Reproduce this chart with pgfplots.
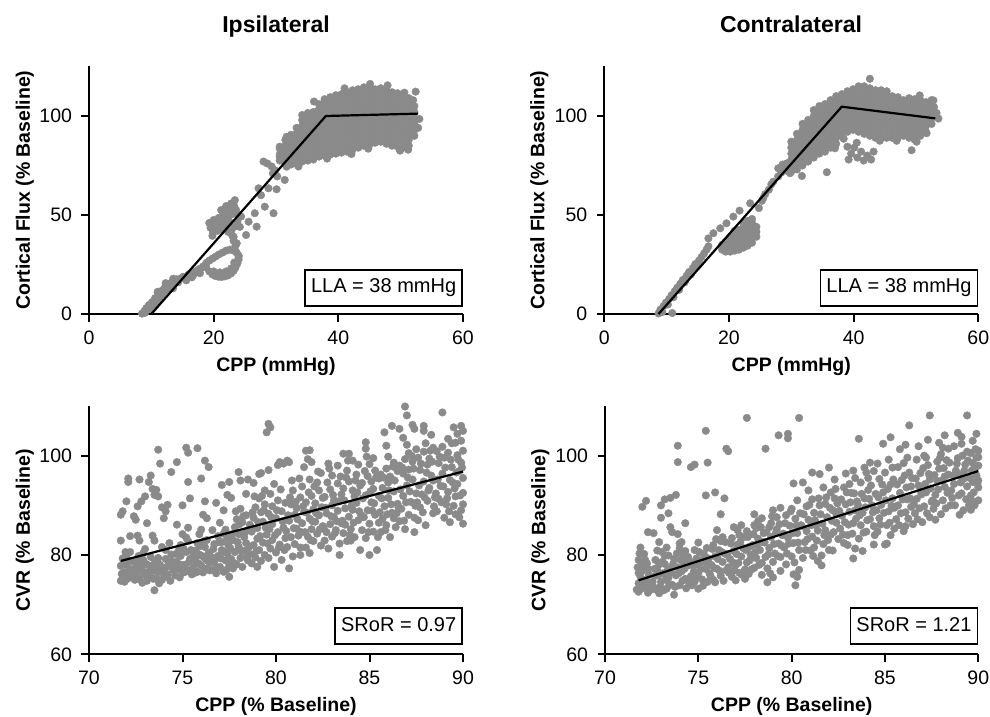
\documentclass[border=0pt]{standalone}
\usepackage{pgfplots}
\pgfplotsset{compat=1.18}
\usepackage{fontspec}
\setmainfont{Liberation Sans}
\definecolor{dotgray}{RGB}{138,138,138}
\pgfplotsset{
  base/.style={scale only axis, width=374pt, height=247.5pt,
    axis x line*=bottom, axis y line*=left,
    axis line style={-, line width=2pt, black},
    tick align=outside, major tick length=7.5pt,
    tick style={line width=2pt, black},
    tick label style={font=\fontsize{19.5}{22}\selectfont},
    xticklabel shift=5.5pt, yticklabel shift=6pt,
    /pgf/number format/assume math mode=true,
    xlabel style={font=\bfseries\fontsize{19.5}{22}\selectfont, anchor=base, at={(axis description cs:0.5,-0.234)}},
    ylabel style={font=\bfseries\fontsize{19.5}{22}\selectfont, anchor=base, at={(axis description cs:-0.158,0.5)}},
    clip=false, clip marker paths=true, minor tick num=0},
  dots/.style={only marks, mark=*, mark size=3.8pt, color=dotgray},
  fitline/.style={black, line width=2.2pt, mark=none},
}
\tikzset{statbox/.style={draw, line width=1.6pt, anchor=south east, font=\fontsize{20}{24}\selectfont, inner xsep=6pt, inner ysep=8.5pt, text height=14.5pt, text depth=4.5pt}}
\begin{document}
\begin{tikzpicture}
\useasboundingbox (0,0) rectangle (990pt,716pt);
\node[font=\bfseries\fontsize{23}{27}\selectfont, anchor=base] at (276pt,683pt) {Ipsilateral};
\node[font=\bfseries\fontsize{23}{27}\selectfont, anchor=base] at (791pt,683pt) {Contralateral};

% ---------------- Panel 1 ----------------
\begin{axis}[base, at={(89pt,402pt)}, anchor=south west,
  xmin=0, xmax=60, ymin=0, ymax=125, xtick={0,20,40,60}, ytick={0,50,100},
  xlabel={CPP (mmHg)}, ylabel={Cortical Flux (\% Baseline)}]
\addplot[dots] coordinates {
(8.5,0.2) (8.9,1.5) (9.0,0.6) (9.2,3.0) (9.6,4.5) (9.8,2.5) (10.1,6.0) (10.4,4.2) (10.6,8.0) (10.9,6.5) (11.0,11.2) (11.2,9.5) (11.3,8.0) (11.5,11.5) (11.8,10.0) (12.1,13.0) (12.3,15.6) (12.4,12.0) (12.7,14.5) (13.0,15.5) (13.3,14.0) (13.5,17.8) (13.5,13.0) (13.7,16.5) (14.0,17.5) (14.3,16.0) (14.7,18.0) (15.1,18.8) (15.5,18.0) (15.6,17.0) (15.9,19.8) (16.3,20.5) (16.5,18.5) (16.7,19.5) (17.1,21.5) (17.5,22.3) (17.8,20.6) (17.9,23.0) (18.3,24.0) (18.7,25.0)
(18.8,23.5) (19.3,21.5) (19.8,20.0) (20.3,19.2) (20.8,18.8) (21.3,18.7) (21.8,19.0) (22.3,19.5) (22.8,20.5) (23.2,21.8) (23.5,23.5) (23.8,25.5) (24.0,27.5) (24.0,29.5) (23.7,31.0) (23.2,32.0) (22.6,32.5) (22.0,32.0) (21.4,31.0) (20.8,30.0) (20.3,29.0) (19.8,28.0) (19.3,27.0) (18.9,26.0) (20.0,21.5) (21.0,21.0) (22.0,21.5) (22.8,23.0) (23.3,26.0) (24.0,28.9) (23.4,32.3)
(23.7,35.7) (23.5,34.5) (23.2,37.0) (23.2,39.0) (23.0,39.5) (22.8,42.0) (23.3,44.0) (19.3,46.0) (19.5,43.5) (19.9,41.5) (20.0,47.5) (20.3,44.5) (20.6,42.0) (20.8,48.5) (21.0,45.5) (21.3,43.0) (21.6,47.0) (21.8,49.5) (22.0,44.5) (22.3,41.5) (22.4,47.5) (21.5,50.5) (22.2,51.5) (22.6,53.5) (22.0,54.5) (22.8,55.8) (23.3,54.5) (23.6,52.5) (23.9,50.0) (21.2,52.5) (23.0,50.5) (23.8,46.5) (24.2,44.0) (19.8,39.5)
(25.6,46.6) (26.9,44.1) (26.6,50.9) (28.2,54.2) (29.6,50.9) (25.2,39.9) (27.2,63.5) (28.8,63.5) (30.1,63.0) (27.6,60.0) (24.4,49.2) (23.4,57.5)
(28.0,77.0) (28.6,76.0) (29.3,74.5) (29.9,72.5) (30.2,69.5) (31.4,67.7) (29.5,71.0) (30.6,84.5) (31.7,89.5) (30.6,79.4) (31.7,74.4)
(30.6,77.5) (30.6,80.5) (30.6,83.5)
(31.5,76.0) (31.5,79.0) (31.5,82.0) (31.5,85.0) (31.5,88.0)
(32.4,75.5) (32.4,78.5) (32.4,81.5) (32.4,84.5) (32.4,87.5) (32.4,90.5)
(33.3,76.0) (33.3,79.0) (33.3,82.0) (33.3,85.0) (33.3,88.0) (33.3,91.0) (33.3,94.0)
(34.2,77.0) (34.2,80.0) (34.2,83.0) (34.2,86.0) (34.2,89.0) (34.2,92.0) (34.2,95.0) (34.2,98.0) (34.2,100.5)
(35.1,77.5) (35.1,80.5) (35.1,83.5) (35.1,86.5) (35.1,89.5) (35.1,92.5) (35.1,95.5) (35.1,98.5) (35.1,101.5)
(36.0,78.0) (36.0,81.0) (36.0,84.0) (36.0,87.0) (36.0,90.0) (36.0,93.0) (36.0,96.0) (36.0,99.0) (36.0,102.0) (36.1,107.3)
(36.9,79.5) (36.9,82.5) (36.9,85.5) (36.9,88.5) (36.9,91.5) (36.9,94.5) (36.9,97.5) (36.9,100.5) (36.9,103.5) (36.9,106.0)
(37.8,80.0) (37.8,83.0) (37.8,86.0) (37.8,89.0) (37.8,92.0) (37.8,95.0) (37.8,98.0) (37.8,101.0) (37.8,104.0) (37.8,107.0) (37.8,108.5)
(38.7,80.5) (38.7,83.5) (38.7,86.5) (38.7,89.5) (38.7,92.5) (38.7,95.5) (38.7,98.5) (38.7,101.5) (38.7,104.5) (38.7,107.5) (38.7,109.5)
(39.6,81.0) (39.6,84.0) (39.6,87.0) (39.6,90.0) (39.6,93.0) (39.6,96.0) (39.6,99.0) (39.6,102.0) (39.6,105.0) (39.6,108.0) (39.6,110.5)
(40.5,81.5) (40.5,84.5) (40.5,87.5) (40.5,90.5) (40.5,93.5) (40.5,96.5) (40.5,99.5) (40.5,102.5) (40.5,105.5) (40.5,108.5) (40.5,111.0)
(41.4,82.0) (41.4,85.0) (41.4,88.0) (41.4,91.0) (41.4,94.0) (41.4,97.0) (41.4,100.0) (41.4,103.0) (41.4,106.0) (41.4,109.0) (41.4,112.0)
(42.3,83.0) (42.3,86.0) (42.3,89.0) (42.3,92.0) (42.3,95.0) (42.3,98.0) (42.3,101.0) (42.3,104.0) (42.3,107.0) (42.3,110.0) (42.3,113.0)
(43.2,84.0) (43.2,87.0) (43.2,90.0) (43.2,93.0) (43.2,96.0) (43.2,99.0) (43.2,102.0) (43.2,105.0) (43.2,108.0) (43.2,111.0) (43.2,113.5)
(44.1,85.0) (44.1,88.0) (44.1,91.0) (44.1,94.0) (44.1,97.0) (44.1,100.0) (44.1,103.0) (44.1,106.0) (44.1,109.0) (44.1,112.0) (44.1,114.5)
(45.0,85.5) (45.0,88.5) (45.0,91.5) (45.0,94.5) (45.0,97.5) (45.0,100.5) (45.0,103.5) (45.0,106.5) (45.0,109.5) (45.0,112.5) (45.0,115.0)
(45.9,86.5) (45.9,89.5) (45.9,92.5) (45.9,95.5) (45.9,98.5) (45.9,101.5) (45.9,104.5) (45.9,107.5) (45.9,110.5) (45.9,113.5)
(46.8,87.0) (46.8,90.0) (46.8,93.0) (46.8,96.0) (46.8,99.0) (46.8,102.0) (46.8,105.0) (46.8,108.0) (46.8,111.0) (46.8,114.0)
(47.7,86.0) (47.7,89.0) (47.7,92.0) (47.7,95.0) (47.7,98.0) (47.7,101.0) (47.7,104.0) (47.7,107.0) (47.7,110.0) (47.7,113.0)
(48.6,85.0) (48.6,88.0) (48.6,91.0) (48.6,94.0) (48.6,97.0) (48.6,100.0) (48.6,103.0) (48.6,106.0) (48.6,109.0) (48.6,112.0)
(49.5,84.5) (49.5,87.5) (49.5,90.5) (49.5,93.5) (49.5,96.5) (49.5,99.5) (49.5,102.5) (49.5,105.5) (49.5,108.5) (49.5,111.5)
(50.4,84.0) (50.4,87.0) (50.4,90.0) (50.4,93.0) (50.4,96.0) (50.4,99.0) (50.4,102.0) (50.4,105.0) (50.4,108.0) (50.4,110.0)
(51.3,85.0) (51.3,88.0) (51.3,91.0) (51.3,94.0) (51.3,97.0) (51.3,100.0) (51.3,103.0) (51.3,106.0) (51.3,109.0)
(52.2,90.0) (52.2,93.0) (52.2,96.0) (52.2,99.0) (52.2,102.0) (52.2,105.0)
(52.4,112.3) (53.0,98.5) (52.8,94.0) (42.1,80.8) (49.9,82.5) (51.2,83.0) (44.8,83.5) (38.2,78.5) (33.6,74.5) (45.1,116.2) (47.9,115.5) (41.0,114.0) (50.6,111.8) (52.0,108.0)
};
\addplot[fitline] coordinates {(10.0,0) (38.0,100.0) (52.8,101.2)};
\node[statbox] at (rel axis cs:1,0.03) {LLA = 38 mmHg};
\end{axis}

% ---------------- Panel 2 ----------------
\begin{axis}[base, at={(604.3pt,402pt)}, anchor=south west,
  xmin=0, xmax=60, ymin=0, ymax=125, xtick={0,20,40,60}, ytick={0,50,100},
  xlabel={CPP (mmHg)}, ylabel={Cortical Flux (\% Baseline)},
  ylabel style={at={(axis description cs:-0.160,0.5)}}]
\addplot[dots] coordinates {
(8.7,0.3) (9.0,2.2) (9.3,1.0) (9.5,4.0) (9.9,5.8) (10.2,4.8) (10.4,7.6) (10.8,9.5) (11.1,8.5) (11.3,11.5) (11.7,13.3) (12.0,12.2) (12.2,15.3) (12.6,17.2) (12.9,16.0) (13.2,19.3) (13.6,21.2) (13.9,20.0) (14.2,23.2) (14.6,25.2) (14.9,24.2) (15.2,27.0) (15.6,28.8) (16.0,30.6) (16.4,32.5) (16.7,34.2) (10.9,0.5)
(16.7,38.2) (17.5,40.8) (18.6,43.3) (19.6,45.8) (20.7,49.2) (21.7,52.2) (23.4,55.9) (25.3,57.2)
(18.9,32.5) (18.9,35.0) (19.5,31.5) (19.5,34.0) (19.5,36.5) (20.2,31.5) (20.2,34.0) (20.2,36.5) (20.2,39.0)
(20.9,32.0) (20.9,34.5) (20.9,37.0) (20.9,39.5) (20.9,42.0) (21.6,32.5) (21.6,35.0) (21.6,37.5) (21.6,40.0) (21.6,42.5)
(22.3,33.5) (22.3,36.0) (22.3,38.5) (22.3,41.0) (22.3,43.5) (22.3,46.0) (23.0,34.5) (23.0,37.0) (23.0,39.5) (23.0,42.0) (23.0,44.5) (23.0,47.0)
(23.7,36.0) (23.7,38.5) (23.7,41.0) (23.7,43.5) (23.7,46.0) (23.7,48.0) (24.4,39.0) (24.4,41.5) (24.4,44.0)
(24.8,53.5) (25.8,60.5) (26.4,62.8) (26.8,65.5) (27.1,66.8) (27.9,69.5) (28.4,71.5) (27.9,73.6) (28.9,74.0) (29.5,72.0) (29.8,71.1) (29.3,76.1) (28.6,75.5) (31.7,69.7) (35.7,71.6) (25.5,58.5)
(30.0,72) (30.0,75) (30.0,78) (30.0,81) (30.0,84) (30.0,87)
(30.9,73) (30.9,76) (30.9,79) (30.9,82) (30.9,85) (30.9,88) (30.9,91)
(31.8,75) (31.8,78) (31.8,81) (31.8,84) (31.8,87) (31.8,90) (31.8,93) (31.8,96)
(32.7,77) (32.7,80) (32.7,83) (32.7,86) (32.7,89) (32.7,92) (32.7,95) (32.7,98)
(33.6,79) (33.6,82) (33.6,85) (33.6,88) (33.6,91) (33.6,94) (33.6,97) (33.6,100) (33.6,103)
(34.5,81) (34.5,84) (34.5,87) (34.5,90) (34.5,93) (34.5,96) (34.5,99) (34.5,102) (34.5,105)
(35.4,82) (35.4,85) (35.4,88) (35.4,91) (35.4,94) (35.4,97) (35.4,100) (35.4,103) (35.4,106)
(36.3,84) (36.3,87) (36.3,90) (36.3,93) (36.3,96) (36.3,99) (36.3,102) (36.3,105) (36.3,108)
(37.2,86) (37.2,89) (37.2,92) (37.2,95) (37.2,98) (37.2,101) (37.2,104) (37.2,107) (37.2,110)
(38.1,90) (38.1,93) (38.1,96) (38.1,99) (38.1,102) (38.1,105) (38.1,108) (38.1,111)
(39.0,92) (39.0,95) (39.0,98) (39.0,101) (39.0,104) (39.0,107) (39.0,110) (39.0,112.5)
(39.9,93) (39.9,96) (39.9,99) (39.9,102) (39.9,105) (39.9,108) (39.9,111) (39.9,113.5)
(40.8,92) (40.8,95) (40.8,98) (40.8,101) (40.8,104) (40.8,107) (40.8,110) (40.8,113) (40.8,115)
(41.7,91) (41.7,94) (41.7,97) (41.7,100) (41.7,103) (41.7,106) (41.7,109) (41.7,112) (41.7,115)
(42.6,90) (42.6,93) (42.6,96) (42.6,99) (42.6,102) (42.6,105) (42.6,108) (42.6,111) (42.6,114) (42.6,118.8)
(43.5,89) (43.5,92) (43.5,95) (43.5,98) (43.5,101) (43.5,104) (43.5,107) (43.5,110) (43.5,113)
(44.4,89) (44.4,92) (44.4,95) (44.4,98) (44.4,101) (44.4,104) (44.4,107) (44.4,110) (44.4,113)
(45.3,89) (45.3,92) (45.3,95) (45.3,98) (45.3,101) (45.3,104) (45.3,107) (45.3,110) (45.3,112.5)
(46.2,89) (46.2,92) (46.2,95) (46.2,98) (46.2,101) (46.2,104) (46.2,107) (46.2,110)
(47.1,89) (47.1,92) (47.1,95) (47.1,98) (47.1,101) (47.1,104) (47.1,107) (47.1,109.5)
(48.0,90) (48.0,93) (48.0,96) (48.0,99) (48.0,102) (48.0,105) (48.0,108)
(48.9,89) (48.9,92) (48.9,95) (48.9,98) (48.9,101) (48.9,104) (48.9,107) (48.9,109)
(49.8,88) (49.8,91) (49.8,94) (49.8,97) (49.8,100) (49.8,103) (49.8,106) (49.8,108.5)
(50.7,90) (50.7,93) (50.7,96) (50.7,99) (50.7,102) (50.7,105) (50.7,108)
(51.6,92) (51.6,95) (51.6,98) (51.6,101) (51.6,104) (51.6,107)
(52.5,96) (52.5,99) (52.5,102) (52.5,105) (52.5,108)
(39.2,78) (39.6,81) (40.1,84) (40.6,79) (41.2,82) (41.6,77.5) (42.2,80) (42.8,78) (40.5,86.5) (39.0,84.5) (43.2,82) (37.0,83.7) (38.4,88.5)
(49.3,82.7) (50.1,87.0) (51.7,91.3) (52.8,107.9) (53.6,98.7) (53.3,101.5) (50.6,110.4) (46.9,87.5) (44.2,87.5) (52.9,104.5)
};
\addplot[fitline] coordinates {(8.7,0) (38.1,104.7) (53.1,98.8)};
\node[statbox] at (rel axis cs:1,0.03) {LLA = 38 mmHg};
\end{axis}

% ---------------- Panel 3 ----------------
\begin{axis}[base, at={(89pt,61.7pt)}, anchor=south west, height=248.3pt,
  xmin=70, xmax=90, ymin=60, ymax=110, xtick={70,75,80,85,90}, ytick={60,80,100},
  xlabel={CPP (\% Baseline)}, ylabel={CVR (\% Baseline)},
  xlabel style={at={(axis description cs:0.5,-0.2296)}}]
\addplot[dots] coordinates {
(71.7,74.8) (71.8,75.3) (71.9,76.5) (71.7,77.8) (71.8,79.3) (72.0,78.0) (72.1,76.0) (72.2,77.2) (72.3,75.5) (72.4,78.6) (72.0,79.9) (72.2,80.6) (71.9,74.6)
(71.7,82.9) (71.8,88.8) (71.7,88.1) (72.0,90.8) (72.1,95.4) (72.1,94.7) (72.4,87.8) (72.5,87.1) (72.2,83.8)
(72.6,76.4) (72.7,75.2) (72.8,77.6) (72.9,79.0) (73.0,76.0) (73.1,74.8) (73.2,77.9) (73.3,75.6) (73.4,76.8) (73.5,78.4) (72.9,80.4) (73.5,72.9) (73.3,79.6) (72.7,78.8)
(72.6,83.9) (72.7,82.9) (73.4,83.9) (73.5,82.9) (72.6,89.8) (72.8,90.8) (73.0,91.8) (72.7,95.2) (73.2,94.7) (73.4,93.3) (73.3,96.0) (73.1,86.4) (73.5,92.1)
(73.6,75.4) (73.7,76.6) (73.8,78.0) (73.9,75.0) (74.0,77.2) (74.1,79.2) (74.2,76.1) (74.3,78.4) (74.4,80.1) (74.5,77.0) (73.7,79.4) (73.9,81.6) (74.3,82.4)
(73.6,93.1) (73.7,91.8) (73.7,101.2) (73.8,98.4) (74.1,88.8) (74.2,90.1) (74.0,87.4) (74.4,96.7) (73.9,89.6)
(74.6,75.9) (74.7,78.6) (74.8,77.2) (74.9,79.8) (75.0,76.4) (75.1,78.0) (75.2,80.6) (75.3,77.0) (75.4,79.2) (75.5,76.1) (74.8,80.9) (74.9,82.0) (75.3,82.8) (75.0,84.2)
(74.7,98.7) (74.7,86.1) (75.2,101.6) (75.3,100.6) (75.3,94.7) (75.4,91.4) (75.3,85.5) (75.0,90.0)
(75.6,77.6) (75.7,78.9) (75.8,76.6) (75.9,80.1) (76.0,77.9) (76.1,76.5) (76.2,79.3) (76.3,77.3) (76.4,80.4) (76.5,78.5) (75.7,80.9)
(75.8,82.4) (76.0,85.1) (76.3,83.0) (76.2,81.6) (76.3,87.4) (76.1,88.1) (75.8,101.5) (76.2,99.0) (76.4,97.7) (76.0,95.4) (76.2,90.8)
(76.6,77.0) (76.7,78.6) (76.8,76.3) (76.9,79.8) (77.0,77.6) (77.1,81.0) (77.2,76.6) (77.3,78.9) (77.4,80.3) (77.5,75.6) (77.5,77.8)
(76.7,82.2) (76.9,83.8) (77.1,82.6) (77.3,85.1) (77.0,86.5) (77.4,83.4) (76.6,85.0) (77.1,94.1) (77.5,94.7) (77.4,92.1) (76.8,90.5) (77.2,89.0)
(77.6,79.2) (77.7,77.3) (77.8,80.6) (77.9,78.1) (78.0,81.7) (78.1,79.4) (78.2,77.6) (78.3,80.8) (78.4,82.4) (78.5,78.9)
(77.7,83.0) (77.8,85.6) (78.0,84.2) (78.2,86.6) (78.3,83.6) (78.4,88.0) (77.9,87.2) (78.1,89.3) (78.1,95.0) (78.0,96.7) (78.5,95.2) (77.6,91.5) (78.4,92.3)
(78.6,80.2) (78.7,78.3) (78.8,82.0) (78.9,79.5) (79.0,83.3) (79.1,81.0) (79.2,78.8) (79.3,82.5) (79.4,80.0) (79.5,84.1) (78.7,84.7) (79.0,77.6)
(78.6,86.1) (78.8,87.5) (79.0,85.4) (79.2,88.6) (79.3,86.7) (79.4,90.2) (78.9,89.6) (79.1,91.4) (78.8,94.5) (79.2,96.5) (79.1,96.3) (79.4,93.0)
(79.6,79.4) (79.7,81.3) (79.8,83.0) (79.9,77.6) (80.0,80.5) (80.1,84.6) (80.2,82.1) (80.3,79.0) (80.4,85.5) (80.5,83.4) (79.8,86.2) (80.0,87.4)
(79.6,88.3) (79.8,89.8) (80.1,91.0) (80.3,88.8) (80.5,90.5) (79.7,92.3)
(79.6,106.4) (79.7,105.7) (79.5,104.7) (79.6,97.1) (80.1,98.1) (80.4,98.4) (80.7,98.7) (80.2,98.7) (80.6,99.0)
(80.7,77.3) (80.9,79.7) (81.3,80.0) (80.6,81.6) (80.8,83.6) (81.0,82.2) (81.1,85.3) (81.2,83.9) (81.4,86.4) (80.7,86.9) (81.0,88.1) (81.3,81.5)
(80.8,90.2) (81.1,89.4) (81.3,91.6) (81.5,88.7) (80.9,93.0) (81.4,93.8) (81.5,97.7) (81.6,101.0) (81.7,99.3)
(81.6,81.5) (81.7,83.7) (81.8,80.4) (81.9,85.2) (82.0,82.8) (82.1,86.7) (82.2,84.3) (82.3,88.0) (82.4,81.9) (82.5,85.8) (81.8,87.3) (82.0,89.2)
(81.6,90.6) (81.9,91.9) (82.1,90.4) (82.3,93.0) (82.5,91.5) (82.2,94.6) (81.8,95.2) (81.8,101.1) (81.9,98.7) (82.4,96.5) (82.8,98.4)
(82.6,82.9) (82.7,84.6) (82.8,81.3) (82.9,86.2) (83.0,83.7) (83.1,87.6) (83.2,85.0) (83.3,88.9) (83.4,82.3) (83.5,86.4) (82.7,88.4) (83.0,90.0) (83.4,80.0)
(82.6,91.7) (82.9,93.2) (83.1,91.0) (83.3,94.4) (83.5,92.2) (83.0,96.0) (83.6,100.4) (83.9,100.4) (83.3,98.0)
(83.6,84.4) (83.7,86.1) (83.8,82.8) (83.9,87.7) (84.0,85.2) (84.1,89.1) (84.2,83.6) (84.3,90.5) (84.4,87.0) (84.5,81.0) (83.7,89.4) (84.0,82.9) (84.2,91.8)
(83.6,93.4) (83.9,94.8) (84.1,93.0) (84.3,96.2) (84.5,94.0) (83.8,97.0) (84.1,99.0) (84.4,98.2)
(84.6,85.0) (84.7,87.6) (84.8,83.4) (84.9,89.0) (85.0,86.3) (85.0,80.0) (85.1,90.6) (85.2,84.7) (85.3,88.1) (85.4,81.0) (85.5,91.9) (85.5,86.5) (84.8,92.0) (85.2,93.3)
(84.6,94.5) (84.9,95.9) (85.1,94.8) (85.3,97.0) (85.5,95.4) (85.0,98.3) (84.8,102.7) (84.8,101.4) (85.2,99.5)
(85.6,84.6) (85.7,87.3) (85.8,89.8) (85.9,86.0) (86.0,91.5) (86.1,83.6) (86.2,88.5) (86.3,92.8) (86.4,85.6) (86.5,90.3) (85.7,93.5) (86.0,94.6) (86.3,87.4)
(85.6,96.2) (85.9,97.4) (86.1,95.8) (86.3,98.6) (86.5,96.9) (86.0,99.8) (85.8,104.7) (86.2,106.0) (86.6,105.4) (85.9,102.0)
(86.6,86.8) (86.7,89.3) (86.8,91.9) (86.9,85.2) (87.0,94.0) (87.1,88.1) (87.2,90.7) (87.3,95.2) (87.4,84.6) (87.5,92.4) (86.8,96.4) (87.1,97.2) (87.4,87.5)
(86.6,98.0) (86.9,99.3) (87.1,100.5) (87.3,98.8) (87.5,101.3) (87.0,102.2) (86.9,109.9) (87.0,108.1) (87.3,106.2) (87.4,105.4) (86.8,103.6)
(87.6,87.0) (87.7,89.6) (87.8,92.2) (87.9,94.8) (88.0,86.0) (88.1,90.9) (88.2,93.5) (88.3,96.0) (88.4,88.4) (88.5,91.6) (87.7,97.1) (88.1,98.2) (88.4,95.0)
(87.6,99.6) (87.9,100.8) (88.2,99.4) (88.4,101.6) (88.0,102.5) (87.9,106.0) (87.9,105.0) (88.3,104.2)
(88.6,88.8) (88.7,91.3) (88.8,93.9) (88.9,96.4) (89.0,87.5) (89.1,90.2) (89.2,92.7) (89.3,95.1) (89.4,97.7) (89.5,89.9) (88.7,98.5) (89.0,99.6) (89.3,86.6)
(88.6,100.9) (88.9,101.8) (89.2,100.6) (89.4,102.5) (89.2,103.4) (88.9,108.7) (89.5,105.7)
(89.6,91.8) (89.7,94.3) (89.8,96.9) (89.9,89.0) (90.0,92.5) (90.0,95.5) (89.9,98.6) (89.7,100.1) (90.0,86.3) (90.0,101.0) (89.6,88.2)
(89.9,106.0) (90.0,105.0) (89.7,104.4) (89.9,103.0)
};
\addplot[dots] coordinates {
(71.75,76.2) (71.85,78.5) (72.05,75.2) (72.15,78.8) (72.35,76.8) (72.45,75.0) (71.95,80.6)
(72.55,77.6) (72.65,79.8) (72.85,74.4) (72.95,76.6) (73.05,78.2) (73.15,75.9) (73.25,76.6) (73.45,75.2) (73.0,81.2)
(73.55,77.3) (73.65,78.8) (73.75,74.3) (73.85,76.6) (74.05,75.6) (74.15,77.6) (74.35,74.8) (74.45,78.7) (74.1,81.0)
(74.55,77.4) (74.65,80.2) (74.85,75.5) (74.95,78.0) (75.05,81.3) (75.15,76.6) (75.35,78.6) (75.45,81.0) (75.2,83.5)
(75.55,79.6) (75.65,76.4) (75.85,78.3) (75.95,81.8) (76.05,79.8) (76.15,82.8) (76.35,78.8) (76.45,76.9) (75.9,84.2)
(76.55,79.6) (76.65,81.2) (76.85,77.4) (76.95,82.6) (77.05,79.3) (77.25,80.6) (77.35,77.0) (77.45,82.0) (77.2,84.3)
(77.55,81.4) (77.65,84.2) (77.75,78.4) (77.95,82.6) (78.05,86.2) (78.15,80.8) (78.35,84.6) (78.45,79.7) (78.25,87.8) (77.85,88.8)
(78.55,81.6) (78.65,85.0) (78.75,88.6) (78.95,80.8) (79.05,86.6) (79.15,83.8) (79.35,89.0) (79.45,85.5) (79.25,91.9) (78.85,91.8)
(79.55,82.3) (79.65,85.2) (79.75,87.6) (79.95,84.0) (80.05,89.0) (80.15,81.5) (80.35,86.8) (80.45,81.0) (80.25,93.2) (79.9,94.3)
(80.55,84.8) (80.65,88.0) (80.75,91.6) (80.95,85.4) (81.05,90.7) (81.15,87.2) (81.35,84.6) (81.45,89.8) (81.25,95.4) (80.85,95.0)
(81.55,84.6) (81.65,88.5) (81.75,92.6) (81.95,86.8) (82.05,93.8) (82.15,88.4) (82.35,85.2) (82.45,89.6) (82.25,96.8) (81.85,83.0)
(82.55,85.4) (82.65,89.5) (82.75,94.6) (82.95,87.8) (83.05,92.1) (83.15,84.4) (83.35,90.8) (83.45,95.8) (83.25,86.8) (82.85,97.4)
(83.55,86.9) (83.65,91.0) (83.75,95.6) (83.95,84.0) (84.05,90.0) (84.15,86.5) (84.35,92.6) (84.45,88.8) (84.25,95.0) (83.85,99.0)
(84.55,88.0) (84.65,91.4) (84.75,96.9) (84.95,84.6) (85.05,92.8) (85.15,88.9) (85.35,95.6) (85.45,83.6) (85.25,90.4) (84.85,99.8)
(85.55,88.6) (85.65,91.4) (85.75,95.6) (85.95,88.2) (86.05,93.0) (86.15,90.2) (86.35,95.0) (86.45,88.4) (86.25,97.8) (85.85,85.0)
(86.55,89.6) (86.65,93.2) (86.75,97.6) (86.95,90.6) (87.05,95.6) (87.15,92.8) (87.35,97.4) (87.45,89.9) (87.25,100.0) (86.85,86.9)
(87.55,90.6) (87.65,94.0) (87.75,98.4) (87.95,91.6) (88.05,96.6) (88.15,93.0) (88.35,98.8) (88.45,89.8) (88.25,101.0) (87.85,88.6)
(88.55,92.4) (88.65,95.2) (88.75,99.8) (88.95,93.8) (89.05,97.6) (89.15,91.4) (89.35,99.2) (89.45,94.6) (89.25,88.8) (88.85,90.6)
(89.55,93.4) (89.65,96.6) (89.75,99.2) (89.85,92.0) (89.95,97.6) (90.0,90.2) (89.6,102.6) (89.8,87.6)
};
\addplot[fitline] coordinates {(71.7,78.8) (90.0,96.8)};
\node[statbox] at (rel axis cs:1,0.0375) {SRoR = 0.97};
\end{axis}

% ---------------- Panel 4 ----------------
\begin{axis}[base, at={(605pt,61.7pt)}, anchor=south west, height=248.3pt, width=373.3pt,
  xmin=70, xmax=90, ymin=60, ymax=110, xtick={70,75,80,85,90}, ytick={60,80,100},
  xlabel={CPP (\% Baseline)}, ylabel={CVR (\% Baseline)},
  xlabel style={at={(axis description cs:0.5,-0.2296)}},
  ylabel style={at={(axis description cs:-0.160,0.5)}}]
\addplot[dots] coordinates {
(71.7,73.0) (71.8,74.3) (71.9,75.6) (71.8,72.6) (72.0,76.8) (72.1,73.6) (72.2,75.0) (72.3,77.2) (72.4,74.2) (72.0,78.0) (71.8,76.4) (72.3,72.4)
(71.9,81.5) (72.1,80.2) (72.0,89.7) (72.2,90.9) (72.3,84.6) (71.8,79.0)
(72.6,73.5) (72.7,75.8) (72.8,77.0) (72.9,72.3) (73.0,74.6) (73.1,76.3) (73.2,78.2) (73.3,73.2) (73.4,75.4) (73.5,77.3) (72.7,79.0) (73.2,79.8) (72.9,78.1)
(72.6,84.4) (72.9,82.6) (72.8,80.9) (73.3,81.5) (73.4,79.9) (73.0,90.0) (73.2,91.2) (73.5,91.5) (73.0,87.5) (73.4,88.4) (73.5,85.6)
(73.6,74.0) (73.7,72.0) (73.8,75.9) (73.9,77.5) (74.0,73.9) (74.1,76.7) (74.2,78.6) (74.3,75.2) (74.4,77.8) (74.5,74.5) (73.7,79.2) (74.2,80.0)
(73.6,84.6) (73.9,84.2) (74.1,82.6) (74.0,82.3) (73.8,92.1) (73.9,102.0) (73.9,98.7) (74.3,86.4) (74.3,80.8)
(74.6,75.7) (74.7,77.9) (74.8,74.6) (74.9,79.3) (75.0,76.4) (75.1,78.5) (75.2,75.1) (75.3,80.2) (75.4,77.2) (75.5,74.6) (74.8,81.0) (75.2,79.0) (75.5,78.6)
(74.6,97.7) (74.8,98.2) (75.5,98.6) (75.4,105.0) (75.4,92.0) (75.0,82.5)
(75.6,76.3) (75.7,78.0) (75.8,75.0) (75.9,79.7) (76.0,77.2) (76.1,81.0) (76.2,75.8) (76.3,78.6) (76.4,80.3) (76.5,76.9) (75.8,82.0) (76.2,82.8) (75.9,74.5)
(75.9,92.6) (76.4,91.4) (76.2,88.2) (76.3,83.6) (76.5,101.4) (76.6,100.9) (76.0,85.0)
(76.6,77.5) (76.7,79.2) (76.8,75.6) (76.9,80.8) (77.0,78.0) (77.1,82.1) (77.2,76.4) (77.3,79.7) (77.4,81.4) (77.5,77.1) (76.8,83.4) (77.2,84.0) (77.5,75.2) (77.0,74.9)
(77.3,86.0) (76.9,85.6) (77.6,84.8) (77.6,107.6)
(77.6,78.5) (77.7,76.2) (77.8,80.1) (77.9,82.0) (78.0,77.4) (78.1,79.4) (78.2,83.3) (78.3,81.0) (78.4,76.0) (78.5,84.4) (77.7,81.6) (78.1,85.4) (78.4,78.4) (78.0,86.0)
(78.0,88.2) (78.4,87.4) (78.6,101.4)
(78.6,79.6) (78.7,77.3) (78.8,81.4) (78.9,83.6) (79.0,78.6) (79.1,80.3) (79.2,85.2) (79.3,82.3) (79.4,76.8) (79.5,84.0) (78.7,74.5) (78.9,86.4) (79.2,87.6) (79.4,79.6) (78.8,85.6)
(79.3,104.1) (79.0,89.0) (79.4,89.5)
(79.6,81.5) (79.7,78.1) (79.8,83.5) (79.9,85.9) (80.0,79.7) (80.1,82.4) (80.2,87.3) (80.3,84.4) (80.4,77.0) (80.5,86.0) (80.2,73.9) (80.3,75.6) (79.7,88.0) (80.0,89.3) (80.4,81.0)
(79.8,104.4) (79.8,103.5) (80.4,107.6) (80.1,94.4) (80.6,94.6) (80.3,91.0)
(80.6,79.4) (80.7,82.6) (80.8,84.8) (80.9,87.1) (81.0,80.9) (81.1,83.7) (81.2,88.5) (81.3,86.0) (81.4,78.8) (81.5,90.0) (80.8,89.8) (81.1,91.2) (81.4,84.9)
(81.1,96.6) (81.5,96.3) (80.9,93.0)
(81.6,77.9) (81.6,79.9) (81.7,82.2) (81.8,85.0) (81.9,87.6) (82.0,81.0) (82.1,84.1) (82.2,89.0) (82.3,91.4) (82.4,86.5) (82.5,83.2) (81.8,90.3) (82.1,92.6) (82.4,88.2)
(82.0,97.6) (81.7,93.6) (82.3,95.2)
(82.6,85.3) (82.7,87.9) (82.8,82.4) (82.9,90.2) (83.0,84.0) (83.1,88.7) (83.2,92.5) (83.3,79.3) (83.3,86.4) (83.4,81.3) (83.5,90.8) (82.8,93.6) (83.1,94.3) (83.4,89.0)
(82.9,96.4) (83.3,97.0) (83.4,95.5)
(83.6,83.3) (83.7,86.0) (83.8,88.5) (83.9,91.4) (84.0,84.7) (84.1,93.1) (84.2,87.2) (84.3,90.0) (84.4,82.1) (84.5,92.3) (83.7,94.6) (84.1,95.5) (84.4,85.8) (83.8,80.8)
(83.6,103.4) (84.2,98.6) (83.9,97.6) (84.4,96.9)
(84.6,84.7) (84.7,87.4) (84.8,90.1) (84.9,92.6) (85.0,82.1) (85.1,86.0) (85.2,88.8) (85.3,94.2) (85.4,91.4) (85.5,85.3) (84.7,95.3) (85.0,96.6) (85.4,97.6) (85.5,89.5) (85.1,82.3)
(85.3,103.7) (84.9,102.4) (85.2,99.2) (84.6,98.4)
(85.6,87.2) (85.7,90.0) (85.8,92.5) (85.9,95.1) (86.0,84.8) (86.1,88.6) (86.2,91.2) (86.3,96.6) (86.4,93.8) (86.5,86.2) (85.7,97.7) (86.0,98.5) (86.4,89.7) (86.2,99.6)
(85.8,101.3) (86.3,106.1) (86.1,102.2)
(86.6,88.4) (86.7,91.3) (86.8,94.0) (86.9,96.5) (87.0,86.6) (87.1,89.8) (87.2,92.6) (87.3,98.1) (87.4,95.2) (87.5,90.7) (86.7,99.2) (87.1,100.0) (87.4,87.6) (86.9,93.0)
(86.8,101.9) (87.3,103.2) (87.4,108.1)
(87.6,89.3) (87.7,92.1) (87.8,94.9) (87.9,97.4) (88.0,88.2) (88.1,91.0) (88.2,93.7) (88.3,99.1) (88.4,96.2) (88.5,90.0) (87.7,87.1) (88.0,100.3) (88.4,101.4) (87.8,98.8) (88.2,95.8)
(88.2,104.1) (87.9,102.6)
(88.6,91.5) (88.7,94.3) (88.8,97.0) (88.9,99.5) (89.0,88.1) (89.1,92.4) (89.2,95.3) (89.3,98.2) (89.4,100.8) (89.5,90.0) (88.7,101.9) (89.1,102.4) (89.4,93.8) (89.6,89.1) (89.0,96.1)
(89.4,108.1) (89.1,103.8) (88.9,104.6)
(89.6,92.0) (89.7,94.7) (89.8,97.2) (89.9,99.6) (90.0,91.0) (90.0,93.6) (89.9,96.0) (89.7,98.5) (90.0,101.0) (89.8,90.0) (90.0,95.0)
(89.7,103.0) (89.9,104.4)
};
\addplot[dots] coordinates {
(71.75,77.5) (71.95,73.2) (72.05,74.9) (72.15,79.0) (72.35,76.0) (72.45,73.0) (72.25,78.3) (71.85,80.3)
(72.55,74.6) (72.65,77.2) (72.85,75.9) (72.95,73.6) (73.05,78.6) (73.15,72.9) (73.25,75.0) (73.35,76.9) (73.45,74.0) (73.05,80.6) (72.75,73.0)
(73.55,76.5) (73.65,78.2) (73.75,73.6) (73.85,80.3) (73.95,76.3) (74.05,79.0) (74.15,74.8) (74.25,77.2) (74.35,73.3) (74.45,79.6) (74.0,81.3)
(74.55,78.6) (74.65,73.9) (74.75,76.6) (74.85,78.0) (74.95,75.6) (75.05,80.6) (75.15,77.2) (75.25,73.8) (75.35,78.6) (75.45,81.4) (75.0,73.2)
(75.55,79.3) (75.65,75.8) (75.75,81.2) (75.85,77.4) (75.95,83.2) (76.05,79.2) (76.15,76.8) (76.25,80.6) (76.35,74.8) (76.45,82.6)
(76.55,80.0) (76.65,76.4) (76.75,82.3) (76.85,78.5) (76.95,76.9) (77.05,80.2) (77.15,78.4) (77.25,82.6) (77.35,76.0) (77.45,83.6) (77.1,85.0)
(77.55,81.0) (77.65,83.6) (77.75,78.9) (77.85,77.1) (77.95,84.2) (78.05,80.6) (78.15,82.1) (78.25,78.0) (78.35,85.6) (78.45,82.6) (78.2,86.8)
(78.55,82.5) (78.65,84.6) (78.75,80.1) (78.85,76.3) (78.95,87.8) (79.05,82.2) (79.15,84.4) (79.25,79.8) (79.35,86.2) (79.45,81.9) (79.0,75.5)
(79.55,84.3) (79.65,86.4) (79.75,80.3) (79.85,82.3) (79.95,88.8) (80.05,84.4) (80.15,78.5) (80.25,85.9) (80.35,82.5) (80.45,88.4) (80.1,76.1)
(80.55,85.8) (80.65,88.2) (80.75,81.0) (80.85,83.2) (80.95,90.1) (81.05,86.0) (81.15,79.8) (81.25,87.0) (81.35,82.9) (81.45,91.4) (81.2,81.5)
(81.55,88.2) (81.65,86.3) (81.75,84.0) (81.85,91.6) (81.95,83.0) (82.05,89.5) (82.15,86.9) (82.25,84.6) (82.35,93.3) (82.45,90.4) (82.2,80.9)
(82.55,88.9) (82.65,91.2) (82.75,84.1) (82.85,86.6) (82.95,92.6) (83.05,86.1) (83.15,90.6) (83.25,84.3) (83.35,92.4) (83.45,87.3) (83.0,82.0)
(83.55,90.1) (83.65,88.0) (83.75,92.3) (83.85,84.5) (83.95,89.6) (84.05,87.0) (84.15,91.3) (84.25,94.0) (84.35,88.6) (84.45,84.0) (84.0,96.6)
(84.55,89.0) (84.65,91.6) (84.75,86.1) (84.85,94.2) (84.95,88.5) (85.05,91.0) (85.15,93.3) (85.25,86.5) (85.35,89.9) (85.45,95.2) (85.3,84.0)
(85.55,89.7) (85.65,94.2) (85.75,86.0) (85.85,88.4) (85.95,91.2) (86.05,96.0) (86.15,93.6) (86.25,87.3) (86.35,91.4) (86.45,95.5) (86.1,85.8)
(86.55,90.2) (86.65,95.4) (86.75,87.2) (86.85,89.4) (86.95,92.2) (87.05,97.5) (87.15,94.3) (87.25,88.4) (87.35,96.3) (87.45,93.4) (87.2,99.6)
(87.55,91.0) (87.65,96.1) (87.75,90.4) (87.85,93.2) (87.95,99.6) (88.05,95.0) (88.15,97.5) (88.25,89.4) (88.35,92.5) (88.45,98.6) (88.1,101.6)
(88.55,93.0) (88.65,96.0) (88.75,90.0) (88.85,98.4) (88.95,92.0) (89.05,94.6) (89.15,100.0) (89.25,97.0) (89.35,91.2) (89.45,99.0) (89.2,89.0)
(89.55,95.5) (89.65,97.0) (89.75,92.6) (89.85,101.3) (89.95,94.4) (90.0,98.0) (89.6,100.5) (89.7,90.8) (90.0,99.7)
};
\addplot[fitline] coordinates {(71.8,74.9) (90.0,96.9)};
\node[statbox] at (rel axis cs:1,0.0375) {SRoR = 1.21};
\end{axis}
\end{tikzpicture}
\end{document}
